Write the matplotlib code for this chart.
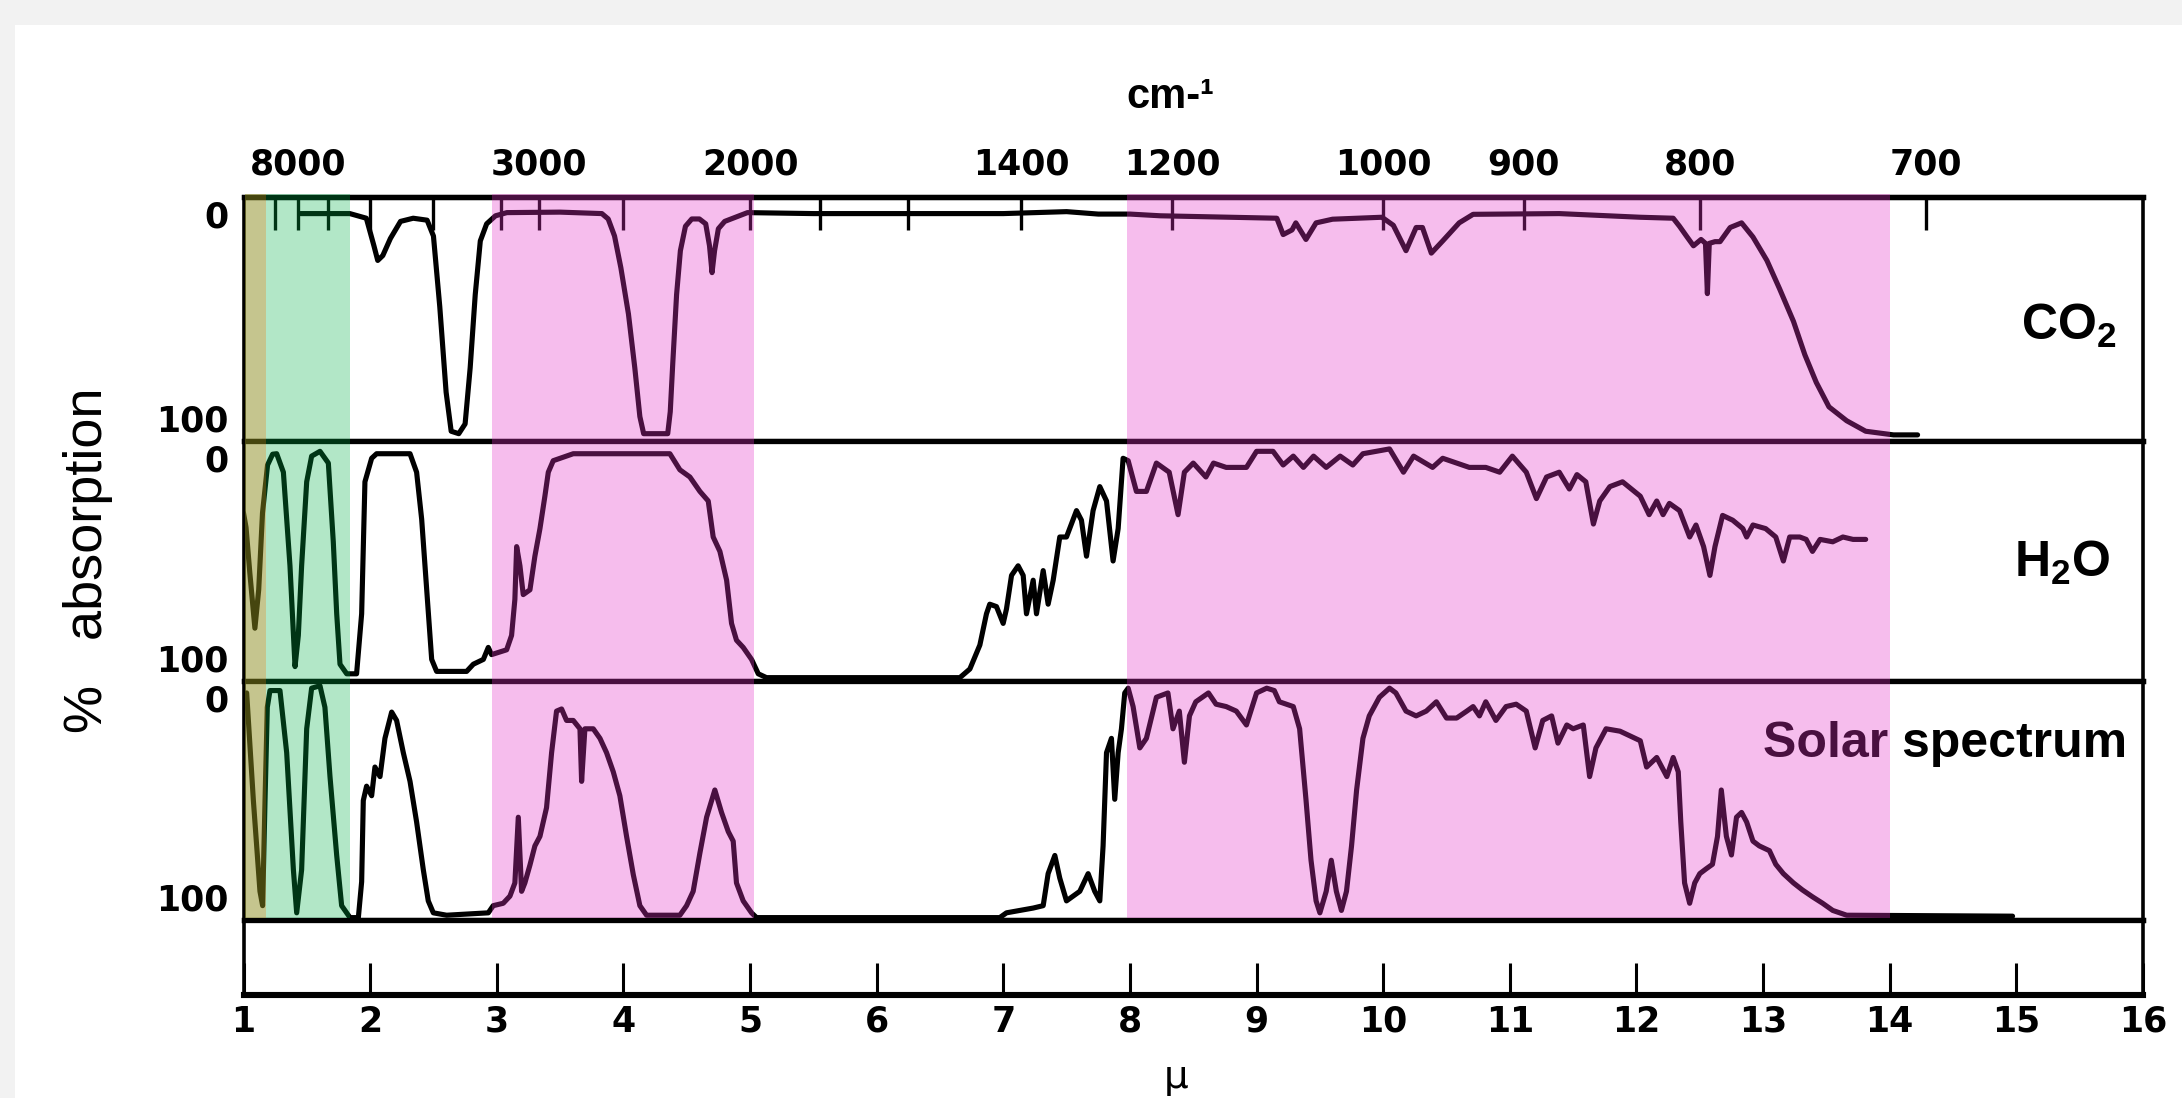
import numpy as np
import matplotlib
matplotlib.use("Agg")
import matplotlib.pyplot as plt
from matplotlib.patches import Rectangle
from matplotlib.transforms import blended_transform_factory, ScaledTranslation


plt.rcParams["font.family"] = ["DejaVu Sans"]
plt.rcParams["font.weight"] = "bold"
plt.rcParams["mathtext.fontset"] = "custom"
plt.rcParams["mathtext.rm"] = "Liberation Sans:bold"
plt.rcParams["mathtext.default"] = "rm"

# wavelength (micron) and % absorption
co2_mu = [1.45, 1.84, 1.97, 2.03, 2.06, 2.10, 2.16, 2.24, 2.34, 2.45,
          2.50, 2.55, 2.60, 2.64, 2.70, 2.75, 2.79, 2.83, 2.87, 2.92,
          2.99, 3.08, 3.50, 3.83, 3.88, 3.93, 3.98, 4.04, 4.09, 4.13,
          4.16, 4.35, 4.37, 4.39, 4.42, 4.45, 4.49, 4.54, 4.60, 4.65,
          4.68, 4.70, 4.72, 4.75, 4.80, 4.90, 4.98, 5.50, 6.00, 6.50,
          7.00, 7.50, 7.75, 8.00, 8.24, 9.16, 9.21, 9.28, 9.31, 9.39,
          9.47, 9.60, 9.99, 10.08, 10.18, 10.26, 10.31, 10.38, 10.47, 10.60,
          10.71, 11.39, 12.03, 12.29, 12.34, 12.40, 12.45, 12.51, 12.545, 12.56,
          12.575, 12.62, 12.66, 12.74, 12.83, 12.92, 13.03, 13.13, 13.24, 13.33,
          13.42, 13.52, 13.66, 13.81, 14.03, 14.22]
co2_abs = [6.8, 6.8, 8.7, 20, 26, 24, 17, 10, 8.7, 9.5,
           16, 45, 80, 96, 97, 93, 70, 40, 18, 11,
           7.7, 6.4, 6.2, 6.8, 9, 16, 29, 48, 70, 90,
           97, 97, 88, 68, 40, 22, 12, 9, 9, 11,
           20, 31, 22, 13, 10, 8, 6.4, 6.8, 6.8, 6.8,
           6.8, 6.0, 7.0, 7.0, 7.7, 8.7, 15.4, 13.5, 10.6, 17.4,
           10.6, 9.1, 8.3, 11.6, 22, 12.5, 12.5, 23, 18, 10.6,
           7.1, 6.8, 8.3, 8.7, 12, 16.4, 20, 17.4, 19, 39.6,
           19, 18.3, 18.3, 12.5, 10.6, 16.4, 26, 37.6, 51, 64.7,
           76, 86, 91.7, 96, 97.5, 97.5]

h2o_mu = [1.00, 1.02, 1.05, 1.09, 1.12, 1.15, 1.19, 1.23, 1.262, 1.315,
          1.367, 1.407, 1.433, 1.459, 1.499, 1.538, 1.604, 1.670, 1.709, 1.736,
          1.762, 1.815, 1.893, 1.933, 1.959, 2.012, 2.051, 2.315, 2.367, 2.407,
          2.433, 2.459, 2.486, 2.525, 2.762, 2.815, 2.894, 2.933, 2.959, 3.078,
          3.117, 3.143, 3.157, 3.183, 3.209, 3.262, 3.301, 3.341, 3.380, 3.407,
          3.446, 3.551, 3.604, 4.367, 4.446, 4.525, 4.604, 4.67, 4.709, 4.762,
          4.815, 4.854, 4.893, 4.946, 5.012, 5.065, 5.130, 6.657, 6.736, 6.815,
          6.867, 6.893, 6.946, 6.999, 7.025, 7.065, 7.117, 7.157, 7.183, 7.236,
          7.262, 7.315, 7.354, 7.394, 7.446, 7.499, 7.578, 7.617, 7.657, 7.709,
          7.762, 7.815, 7.867, 7.907, 7.946, 7.986, 8.051, 8.130, 8.209, 8.31,
          8.38, 8.43, 8.50, 8.60, 8.66, 8.76, 8.92, 9.00, 9.13, 9.21,
          9.29, 9.37, 9.45, 9.55, 9.66, 9.76, 9.84, 10.05, 10.16, 10.24,
          10.39, 10.47, 10.68, 10.81, 10.92, 11.02, 11.13, 11.21, 11.29, 11.39,
          11.47, 11.53, 11.60, 11.66, 11.71, 11.79, 11.89, 12.03, 12.10, 12.16,
          12.21, 12.26, 12.34, 12.42, 12.47, 12.53, 12.58, 12.62, 12.68, 12.76,
          12.84, 12.87, 12.92, 13.02, 13.10, 13.16, 13.21, 13.29, 13.34, 13.39,
          13.45, 13.55, 13.63, 13.71, 13.81]
h2o_abs = [30, 36, 55, 78, 62, 30, 10, 5.5, 5.3, 13,
           52, 94, 81, 52, 17, 6.3, 4.3, 9.2, 42, 72,
           93, 97, 97, 72, 17, 7.2, 5.3, 5.3, 13, 32.6,
           52, 72, 91, 96, 96, 93, 91, 86, 89, 87,
           81, 66, 44, 52, 64, 62, 48, 36.5, 23, 13,
           8.2, 6.3, 5.3, 5.3, 12, 15, 21, 25, 40, 46,
           58, 76, 83, 86, 91, 97, 98.6, 98.6, 95, 85,
           72, 68, 69, 76, 70, 56, 52, 56, 72, 58,
           72, 54, 68, 58, 40, 40, 29, 33, 48, 29,
           19, 25, 50, 36.5, 7.2, 8.2, 21, 21, 9.2, 13,
           30.7, 13, 9.2, 15, 9.2, 11, 11, 4.3, 4.3, 10,
           6.3, 11, 6.3, 11, 6.3, 10, 5.3, 3.3, 13, 6.3,
           11, 7.2, 11, 11, 13, 6.3, 13, 24, 15, 13,
           20, 14, 17, 34.6, 25, 19, 17, 23, 30.7, 25,
           30.7, 26, 29, 40, 35, 44, 56, 44, 31, 33,
           36.5, 40, 35, 36.5, 40, 50, 40, 40, 41, 46,
           41, 42, 40, 41, 41]

solar_mu = [1.025, 1.078, 1.130, 1.151, 1.170, 1.188, 1.209, 1.288, 1.341, 1.394,
            1.420, 1.459, 1.499, 1.538, 1.604, 1.643, 1.683, 1.736, 1.775, 1.841,
            1.907, 1.933, 1.946, 1.972, 2.012, 2.038, 2.078, 2.117, 2.170, 2.209,
            2.262, 2.315, 2.367, 2.420, 2.459, 2.499, 2.604, 2.933, 2.972, 3.051,
            3.104, 3.143, 3.170, 3.196, 3.222, 3.262, 3.301, 3.341, 3.393, 3.433,
            3.472, 3.512, 3.551, 3.604, 3.657, 3.670, 3.696, 3.762, 3.815, 3.867,
            3.920, 3.972, 4.025, 4.078, 4.130, 4.183, 4.446, 4.499, 4.551, 4.604,
            4.657, 4.722, 4.775, 4.828, 4.867, 4.893, 4.946, 5.012, 5.051, 6.972,
            7.025, 7.236, 7.315, 7.354, 7.407, 7.446, 7.499, 7.604, 7.670, 7.722,
            7.762, 7.788, 7.815, 7.854, 7.880, 7.907, 7.933, 7.959, 7.986, 8.025,
            8.078, 8.130, 8.209, 8.30, 8.34, 8.39, 8.43, 8.47, 8.52, 8.62,
            8.68, 8.76, 8.84, 8.92, 9.00, 9.08, 9.14, 9.18, 9.29, 9.34,
            9.39, 9.43, 9.47, 9.50, 9.55, 9.59, 9.63, 9.67, 9.71, 9.75,
            9.79, 9.84, 9.89, 9.97, 10.05, 10.10, 10.18, 10.26, 10.34, 10.42,
            10.50, 10.58, 10.66, 10.71, 10.76, 10.81, 10.89, 10.97, 11.05, 11.13,
            11.20, 11.26, 11.33, 11.38, 11.45, 11.50, 11.58, 11.63, 11.68, 11.76,
            11.87, 12.03, 12.08, 12.16, 12.24, 12.29, 12.33, 12.35, 12.38, 12.42,
            12.46, 12.50, 12.55, 12.60, 12.64, 12.67, 12.71, 12.75, 12.79, 12.83,
            12.87, 12.92, 12.97, 13.05, 13.10, 13.16, 13.24, 13.31, 13.39, 13.47,
            13.55, 13.66, 14.97]
solar_abs = [5, 50, 88, 94, 50, 11, 4, 4, 30, 79,
             97, 79, 20, 3, 2, 11, 40, 73, 94, 99,
             99, 84, 50, 44, 48, 36, 40, 24, 13, 16.5,
             30, 42, 59, 79, 92, 97, 98, 97, 94, 93,
             90, 84.5, 57, 88, 84.5, 77, 69, 65, 53, 30,
             12.6, 11.7, 16.5, 16.5, 20, 42, 20, 20, 24, 30,
             38, 48, 65, 81, 94, 98, 98, 94, 88, 72,
             57, 45.6, 55, 63, 67, 84.5, 92, 97, 99, 99,
             97, 95, 94, 80.6, 73, 82.5, 92, 88, 80.6, 88,
             92, 69, 30, 24, 49.5, 30, 20, 5, 3, 10.7,
             28, 24, 6.8, 5, 20, 12.6, 34, 14.6, 8.7, 5,
             9.7, 10.7, 12.6, 18.4, 5, 3, 4, 8.7, 10.7, 20,
             49.5, 75, 92, 97, 88, 75, 88, 96, 88, 69,
             45.6, 24, 14.6, 6.8, 3, 5, 12.6, 14.6, 12.6, 8.7,
             15.5, 15.5, 12.6, 10.7, 14.6, 8.7, 16.5, 10.7, 9.7, 12.6,
             28, 16.5, 14.6, 26, 18.4, 20, 18.4, 40, 28, 20,
             21, 25, 36, 32, 40, 32, 38, 59, 84.5, 93,
             84.5, 80.6, 78.6, 76.7, 65, 45.6, 65, 72.8, 57, 55,
             59, 67, 69, 71, 76.7, 80.6, 84.5, 87.4, 90.3, 93,
             96, 98, 98.4]

micron_ticks = list(range(1, 17))
wn_ticks = [8000, 7000, 6000, 5000, 4000, 3300, 3000, 2500, 2000, 1800,
            1600, 1400, 1200, 1000, 900, 800, 700]
wn_labels = ["8000", "", "", "", "", "", "3000", "", "2000", "",
             "", "1400", "1200", "1000", "900", "800", "700"]

# highlighted wavelength windows (micron)
bands = [(1.01, 1.18, "#8c8c1e", 0.5),
         (1.18, 1.84, "#00b248", 0.3),
         (2.96, 5.03, "#e532c8", 0.32),
         (7.98, 14.0, "#e532c8", 0.32)]

W, H = 2182, 1098


def box(x0, y0, x1, y1):
    return [x0 / W, 1 - y1 / H, (x1 - x0) / W, (y1 - y0) / H]


def to_wn(x):
    return 1e4 / np.clip(np.asarray(x, dtype=float), 0.1, None)


fig = plt.figure(figsize=(W / 100, H / 100), dpi=100, facecolor="#f2f2f2")
fig.add_artist(Rectangle((15 / W, 0), 1, 1 - 25 / H, transform=fig.transFigure,
                         facecolor="white", edgecolor="none", zorder=-10))

ax_co2 = fig.add_axes(box(243.5, 197, 2143, 441))
ax_h2o = fig.add_axes(box(243.5, 441, 2143, 681))
ax_sun = fig.add_axes(box(243.5, 681, 2143, 920))
ax_mu = fig.add_axes(box(243.5, 920, 2143, 995))

series = [(ax_co2, co2_mu, co2_abs), (ax_h2o, h2o_mu, h2o_abs), (ax_sun, solar_mu, solar_abs)]
for ax, mu, ab in series:
    ax.plot(mu, ab, color="black", lw=3.7, solid_joinstyle="round", solid_capstyle="round")
    ax.set_xlim(1, 16)
    ax.set_ylim(100, 0)
    ax.tick_params(axis="x", bottom=False, labelbottom=False)
    ax.set_yticks([0, 100], ["0", "100"])
    ax.tick_params(axis="y", length=0, pad=11, labelsize=25)
    for s in ("top", "bottom"):
        ax.spines[s].set_linewidth(3.8)
    for s in ("left", "right"):
        ax.spines[s].set_linewidth(2.6)
    lbl0, lbl100 = ax.get_yticklabels()
    lbl0.set_transform(lbl0.get_transform() + ScaledTranslation(0, -0.17, fig.dpi_scale_trans))
    lbl100.set_transform(lbl100.get_transform() + ScaledTranslation(0, 0.23, fig.dpi_scale_trans))

# bottom micron axis
ax_mu.set_xlim(1, 16)
ax_mu.set_ylim(0, 1)
ax_mu.set_yticks([])
ax_mu.set_xticks(micron_ticks, [str(t) for t in micron_ticks])
ax_mu.tick_params(axis="x", direction="in", length=23, width=2.2, labelsize=25, pad=7)
ax_mu.spines["bottom"].set_linewidth(4.4)
ax_mu.spines["top"].set_linewidth(3.8)
for s in ("left", "right"):
    ax_mu.spines[s].set_linewidth(2.6)

# top wavenumber axis
sec = ax_co2.secondary_xaxis("top", functions=(to_wn, to_wn))
sec.set_xticks(wn_ticks, wn_labels)
sec.tick_params(direction="in", length=24, width=2.4, labelsize=25, pad=11)
sec.spines["top"].set_linewidth(3.8)
first = sec.get_xticklabels()[0]
first.set_transform(first.get_transform() + ScaledTranslation(0.23, 0, fig.dpi_scale_trans))

# coloured windows laid over the three panels
trans = blended_transform_factory(ax_co2.transData, fig.transFigure)
for x0, x1, color, alpha in bands:
    fig.add_artist(Rectangle((x0, 1 - 918 / H), x1 - x0, (918 - 194) / H, transform=trans,
                             facecolor=color, alpha=alpha, edgecolor="none", zorder=10))

sans = ["Liberation Sans", "DejaVu Sans"]
fig.text(2117 / W, 1 - 340 / H, "CO$_2$", ha="right", va="baseline", fontsize=36, family=sans)
fig.text(2110 / W, 1 - 577 / H, "H$_2$O", ha="right", va="baseline", fontsize=36, family=sans)
fig.text(2127 / W, 1 - 757 / H, "Solar spectrum", ha="right", va="baseline", fontsize=36, family=sans)
fig.text(1170 / W, 1 - 108 / H, "cm-¹", ha="center", va="baseline", fontsize=30, family=sans)
fig.text(88 / W, 1 - 560 / H, "%   absorption", rotation=90, ha="center", va="center",
         fontsize=39, family=sans, fontweight="normal")
fig.text(1176 / W, 1 - 1096 / H, "μ", ha="center", va="bottom", fontsize=28, fontweight="normal")

fig.savefig("out.png", dpi=100, facecolor=fig.get_facecolor())
